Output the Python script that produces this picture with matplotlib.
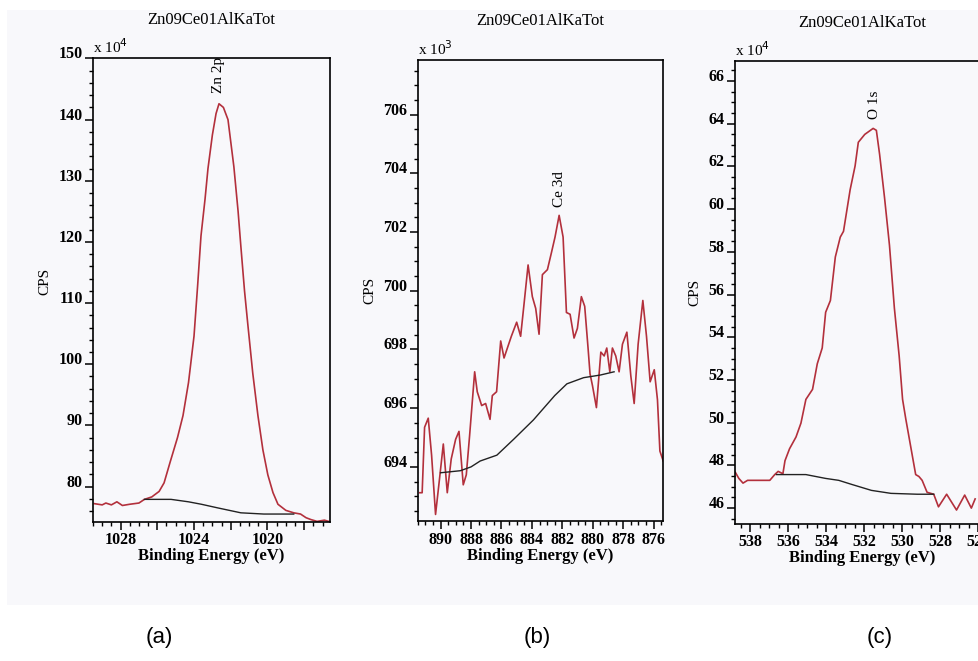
import matplotlib.pyplot as plt
from matplotlib.ticker import MultipleLocator, FuncFormatter
from matplotlib.patches import Rectangle

plt.rcParams['font.family'] = ['Liberation Serif', 'DejaVu Serif']

# Zn 2p (x 10^4 CPS)
zn_be = [1029.43, 1029.0, 1028.8, 1028.5, 1028.2, 1027.9, 1027.5, 1027.0, 1026.7, 1026.3,
         1025.9, 1025.63, 1025.3, 1024.9, 1024.6, 1024.3, 1024.0, 1023.8, 1023.62, 1023.4,
         1023.24, 1023.0, 1022.8, 1022.64, 1022.4, 1022.15, 1021.83, 1021.6, 1021.45, 1021.25,
         1021.07, 1020.8, 1020.52, 1020.25, 1019.98, 1019.7, 1019.43, 1019.0, 1018.57, 1018.2,
         1017.9, 1017.64, 1017.3, 1016.9, 1016.55]
zn_cps = [77.2, 77.0, 77.3, 77.0, 77.5, 76.9, 77.1, 77.3, 77.9, 78.3,
          79.2, 80.6, 84.0, 88.0, 91.6, 97.0, 104.6, 113.0, 121.0, 127.0,
          132.0, 137.5, 141.0, 142.6, 142.0, 140.0, 132.3, 125.0, 119.3, 112.0,
          106.5, 98.5, 91.6, 86.0, 81.9, 79.0, 77.1, 76.1, 75.7, 75.5,
          74.9, 74.6, 74.3, 74.5, 74.2]
zn_bg_be = [1026.7, 1025.25, 1024.3, 1023.6, 1022.7, 1021.45, 1020.2, 1018.57]
zn_bg = [77.9, 77.9, 77.5, 77.1, 76.5, 75.7, 75.5, 75.5]

# Ce 3d (x 10^3 CPS)
ce_be = [891.36, 891.21, 891.05, 890.81, 890.59, 890.33, 890.04, 889.82, 889.56, 889.30,
         889.01, 888.79, 888.51, 888.31, 888.09, 887.76, 887.59, 887.30, 887.04, 886.75,
         886.60, 886.32, 886.05, 885.83, 885.61, 885.35, 885.00, 884.74, 884.52, 884.25,
         883.97, 883.75, 883.53, 883.31, 882.98, 882.72, 882.48, 882.21, 881.95, 881.73,
         881.49, 881.23, 881.01, 880.75, 880.53, 880.31, 880.18, 880.02, 879.76, 879.47,
         879.25, 879.08, 878.88, 878.71, 878.49, 878.27, 878.05, 877.76, 877.50, 877.28,
         877.02, 876.71, 876.47, 876.23, 875.96, 875.75, 875.59, 875.37]
ce_cps = [693.12, 693.12, 695.35, 695.66, 694.40, 692.38, 693.73, 694.78, 693.12, 694.27,
          694.94, 695.21, 693.39, 693.73, 695.08, 697.24, 696.56, 696.09, 696.16, 695.62,
          696.43, 696.56, 698.29, 697.71, 698.05, 698.45, 698.93, 698.45, 699.53, 700.88,
          699.80, 699.40, 698.52, 700.55, 700.72, 701.29, 701.83, 702.57, 701.83, 699.26,
          699.20, 698.39, 698.72, 699.80, 699.47, 698.05, 697.17, 696.77, 696.02, 697.91,
          697.78, 698.05, 697.24, 698.05, 697.78, 697.24, 698.18, 698.59, 697.10, 696.16,
          698.18, 699.67, 698.45, 696.90, 697.31, 696.29, 694.54, 694.20]
ce_bg_be = [890.0, 888.7, 888.0, 887.4, 886.3, 885.2, 883.9, 882.5, 881.7, 880.6, 879.5, 878.6]
ce_bg = [693.8, 693.87, 694.0, 694.2, 694.4, 694.94, 695.6, 696.43, 696.83, 697.04, 697.13, 697.24]

# O 1s (x 10^4 CPS)
o_be = [538.78, 538.60, 538.38, 538.14, 537.48, 536.97, 536.71, 536.53, 536.28, 536.17,
        535.93, 535.59, 535.33, 535.07, 534.72, 534.47, 534.21, 534.03, 533.78, 533.52,
        533.26, 533.09, 532.74, 532.48, 532.31, 531.97, 531.53, 531.36, 531.19, 530.93,
        530.67, 530.41, 530.16, 529.98, 529.81, 529.55, 529.29, 529.12, 528.95, 528.69,
        528.34, 528.09, 527.66, 527.14, 526.71, 526.36, 526.16]
o_cps = [47.67, 47.39, 47.17, 47.30, 47.30, 47.30, 47.57, 47.72, 47.61, 48.22,
         48.78, 49.33, 49.98, 51.09, 51.56, 52.76, 53.50, 55.17, 55.72, 57.76,
         58.69, 58.96, 60.91, 62.02, 63.13, 63.50, 63.78, 63.69, 62.57, 60.54,
         58.31, 55.35, 53.13, 51.09, 50.17, 48.87, 47.57, 47.48, 47.30, 46.74,
         46.65, 46.06, 46.65, 45.91, 46.61, 46.00, 46.43]
o_bg_be = [536.62, 535.07, 534.03, 533.34, 532.66, 531.62, 530.59, 529.21, 528.34]
o_bg = [47.57, 47.57, 47.39, 47.30, 47.11, 46.83, 46.69, 46.65, 46.65]

title = 'Zn09Ce01AlKaTot'
red = '#b3303c'

fig = plt.figure(figsize=(9.79, 6.61), dpi=100)
fig.patches.append(Rectangle((7 / 979, 1 - 605 / 661), 1, 595 / 661,
                             transform=fig.transFigure, facecolor='#f8f8fb',
                             edgecolor='none', zorder=-10))

panels = [
    # be, cps, bg_be, bg, rect, xlim, ylim, xmaj, xlab_step, xmin, ymaj, ymin, exp, peak, peak_pos, ylab
    (zn_be, zn_cps, zn_bg_be, zn_bg, [0.095, 0.2103, 0.242, 0.7012], (1029.5, 1016.6), (74.2, 150),
     2, 4, 0.5, 10, 2, 4, 'Zn 2p', (1022.64, 144.3), (-0.176, 0.52)),
    (ce_be, ce_cps, ce_bg_be, ce_bg, [0.4267, 0.2115, 0.2503, 0.6976], (891.5, 875.4), (692.15, 707.86),
     2, 2, 0.5, 2, 0.5, 3, 'Ce 3d', (882.21, 702.85), (-0.167, 0.5)),
    (o_be, o_cps, o_bg_be, o_bg, [0.7508, 0.2074, 0.26, 0.6998], (538.8, 525.4), (45.26, 66.92),
     2, 2, 0.5, 2, 0.5, 4, 'O 1s', (531.45, 64.2), (-0.133, 0.5)),
]

for (be, cps, bg_be, bg, rect, xlim, ylim, xmaj, xlab_step, xmin, ymaj, ymin,
     exp, peak, peak_pos, ylab) in panels:
    ax = fig.add_axes(rect)
    ax.set_facecolor('none')
    ax.plot(be, cps, color=red, lw=1.2)
    ax.plot(bg_be, bg, color='#222222', lw=1.0)
    ax.set_xlim(*xlim)
    ax.set_ylim(*ylim)
    ax.xaxis.set_major_locator(MultipleLocator(xmaj))
    ax.xaxis.set_minor_locator(MultipleLocator(xmin))
    ax.xaxis.set_major_formatter(FuncFormatter(
        lambda v, p, s=xlab_step: '%d' % round(v) if round(v) % s == 0 else ''))
    ax.yaxis.set_major_locator(MultipleLocator(ymaj))
    ax.yaxis.set_minor_locator(MultipleLocator(ymin))
    ax.yaxis.set_major_formatter(FuncFormatter(lambda v, p: '%d' % round(v)))
    ax.tick_params(axis='both', which='major', direction='out', length=6, width=1.1,
                   labelsize=11.5, pad=1.5)
    ax.tick_params(axis='both', which='minor', direction='out', length=3, width=1.0)
    for lab in ax.get_yticklabels():
        lab.set_fontweight('bold')
        lab.set_verticalalignment('baseline')
    for lab in ax.get_xticklabels():
        lab.set_fontweight('bold')
    for sp in ax.spines.values():
        sp.set_linewidth(1.2)
    ax.set_xlabel('Binding Energy (eV)', fontsize=12, fontweight='bold', labelpad=0)
    ax.set_ylabel('CPS', fontsize=11)
    ax.yaxis.set_label_coords(*ylab)
    ax.set_title(title, fontsize=12, pad=25)
    ax.text(0.0, 1.005, r'x 10$^{%d}$' % exp, transform=ax.transAxes,
            ha='left', va='bottom', fontsize=11)
    ax.text(peak_pos[0], peak_pos[1], peak, rotation=90, ha='center', va='bottom',
            fontsize=11)

for x, lab in zip([0.163, 0.549, 0.899], ['(a)', '(b)', '(c)']):
    fig.text(x, 0.035, lab, ha='center', va='center', fontsize=16,
             family='Liberation Sans')

fig.savefig('out.png', dpi=100)
